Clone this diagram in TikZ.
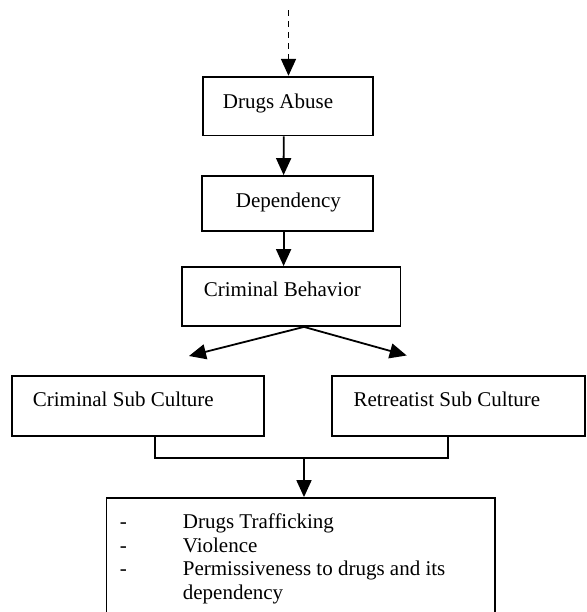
\documentclass[tikz,border=0pt]{standalone}
\usepackage{fontspec}
\setmainfont{Liberation Serif}
\usetikzlibrary{arrows.meta}

\begin{document}
\begin{tikzpicture}[x=0.5pt, y=-0.5pt, line width=0.9pt,
    box/.style={draw, inner sep=0pt},
    txt/.style={inner sep=0pt, anchor=base west, font=\fontsize{10.5}{12}\selectfont},
    arr/.style={-{Triangle[length=8.5pt, width=7.5pt]}}]

    \useasboundingbox (0,0) rectangle (586,612);
    \clip (0,0) rectangle (586,612);

    \node [box, minimum width=85pt, minimum height=29.4pt] (abuse) at (287.7,106.1) {};
    \node [txt] (abuse-t) at (222,108) {Drugs Abuse};

    \node [box, minimum width=85.3pt, minimum height=27.5pt] (dep) at (287.6,203.5) {};
    \node [txt] (dep-t) at (235,207) {Dependency};

    \node [box, minimum width=109.2pt, minimum height=29.5pt] (behav) at (291.2,296.5) {};
    \node [txt] (behav-t) at (203,296.7) {Criminal Behavior};

    \node [box, minimum width=126pt, minimum height=30pt] (crimsub) at (137.7,406) {};
    \node [txt] (crimsub-t) at (32,406.7) {Criminal Sub Culture};

    \node [box, minimum width=126.6pt, minimum height=30pt] (retsub) at (458.4,406) {};
    \node [txt] (retsub-t) at (352.7,406.7) {Retreatist Sub Culture};

    \node [box, minimum width=194.2pt, minimum height=71pt] (effects) at (300.7,569) {};
    \foreach \item [count=\i] in {Drugs Trafficking, Violence, Permissiveness to drugs and its} {
        \node [txt] (dash\i) at (119,{528.3+23.7*(\i-1)}) {-};
        \node [txt] (item\i) at (182,{528.3+23.7*(\i-1)}) {\item};
    }
    \node [txt] (item4) at (182,599.4) {dependency};

    \coordinate (top) at (288.5,10);
    \draw [arr, dash pattern=on 3.2pt off 2.3pt] (top) -- (top |- abuse.north);
    \draw [arr] ([xshift=-2pt]abuse.south) -- ([xshift=-2pt]dep.north);
    \draw [arr] ([xshift=-2pt]dep.south) -- ([xshift=-2pt]dep.south |- behav.north);

    \coordinate (split) at ([xshift=6.4pt]behav.south);
    \coordinate (tipl) at (189,356);
    \coordinate (tipr) at (406.7,355.5);
    \draw [arr] (split) -- (tipl);
    \draw [arr] (split) -- (tipr);

    \draw ([xshift=8.65pt]crimsub.south) -- ++(0,21) -| ([xshift=-5.35pt]retsub.south);
    \coordinate (join) at (304,457);
    \draw [arr] (join) -- (join |- effects.north);

\end{tikzpicture}
\end{document}
